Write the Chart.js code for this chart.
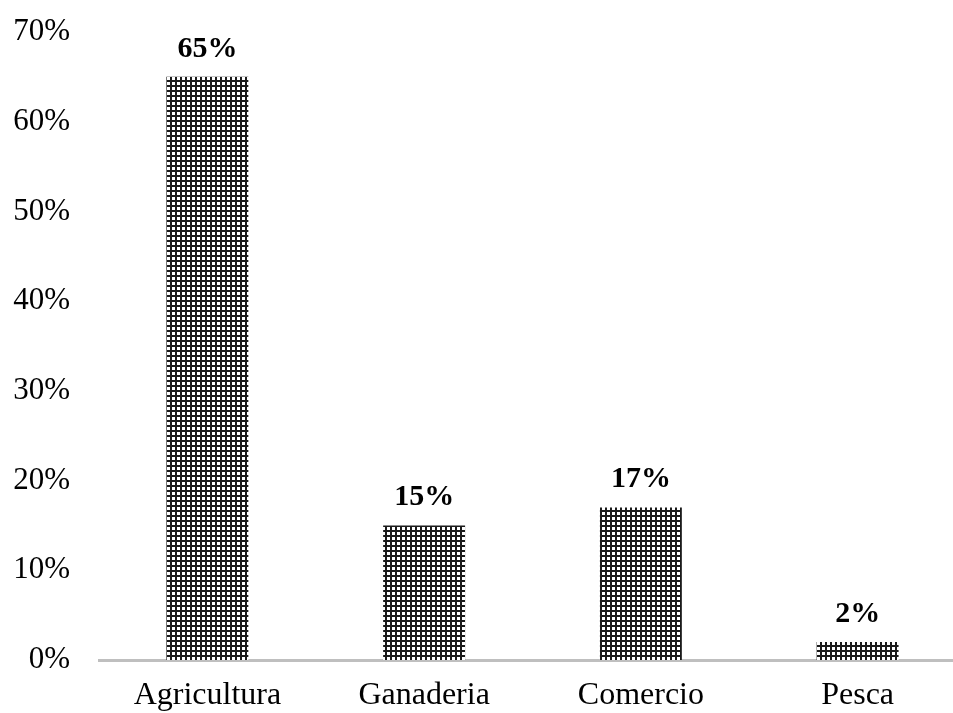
<!DOCTYPE html>
<html><head><meta charset="utf-8">
<script src="https://cdn.jsdelivr.net/npm/chart.js@4/dist/chart.umd.min.js"></script>
<style>html,body{margin:0;padding:0;background:#fff;overflow:hidden;width:953px;height:713px}#wrap{width:968px;height:713px;position:relative}</style>
</head><body><div id="wrap"><canvas id="c"></canvas></div>
<script>
const categories = ["Agricultura", "Ganaderia", "Comercio", "Pesca"];
const values = [65, 15, 17, 2];
const yTicks = [0, 10, 20, 30, 40, 50, 60, 70];

function hatch() {
  const p = document.createElement('canvas');
  p.width = 5; p.height = 5;
  const g = p.getContext('2d');
  g.fillStyle = '#fff'; g.fillRect(0, 0, 5, 5);
  g.fillStyle = '#1a1a1a';
  g.fillRect(0, 0, 2, 5);
  g.fillRect(0, 0, 5, 2);
  return document.getElementById('c').getContext('2d').createPattern(p, 'repeat');
}

const labelPlugin = {
  id: 'vlabels',
  afterDatasetsDraw(chart) {
    const ctx = chart.ctx;
    const meta = chart.getDatasetMeta(0);
    ctx.save();
    ctx.font = 'bold 30px "Liberation Serif", serif';
    ctx.fillStyle = '#000';
    ctx.textAlign = 'center';
    ctx.textBaseline = 'alphabetic';
    meta.data.forEach((bar, i) => {
      ctx.fillText(values[i] + '%', bar.x, bar.y - 20);
    });
    ctx.restore();
  }
};

new Chart(document.getElementById('c'), {
  type: 'bar',
  data: {
    labels: categories,
    datasets: [{ data: values, backgroundColor: hatch(), borderWidth: 0,
      barPercentage: 0.378, categoryPercentage: 1 }]
  },
  plugins: [labelPlugin],
  options: {
    responsive: true, maintainAspectRatio: false, animation: false,
    layout: { padding: { top: 32, right: 2, left: 0, bottom: 0 } },
    plugins: { legend: { display: false }, tooltip: { enabled: false } },
    scales: {
      x: {
        afterFit(s) { s.height = 53; s.paddingLeft = 0; s.paddingRight = 0; },
        grid: { display: false, drawTicks: false },
        border: { display: true, color: '#bfbfbf', width: 3 },
        ticks: { color: '#000', font: { family: '"Liberation Serif", serif', size: 32 }, padding: 16 }
      },
      y: {
        min: 0, max: 70,
        afterBuildTicks(s) { s.ticks = yTicks.map(v => ({ value: v })); },
        afterFit(s) { s.width = 99; s.paddingTop = 0; s.paddingBottom = 0; },
        grid: { display: false, drawTicks: false },
        border: { display: false },
        ticks: { color: '#000', font: { family: '"Liberation Serif", serif', size: 31 }, padding: 29,
          callback: v => v + '%' }
      }
    }
  }
});
</script></body></html>
